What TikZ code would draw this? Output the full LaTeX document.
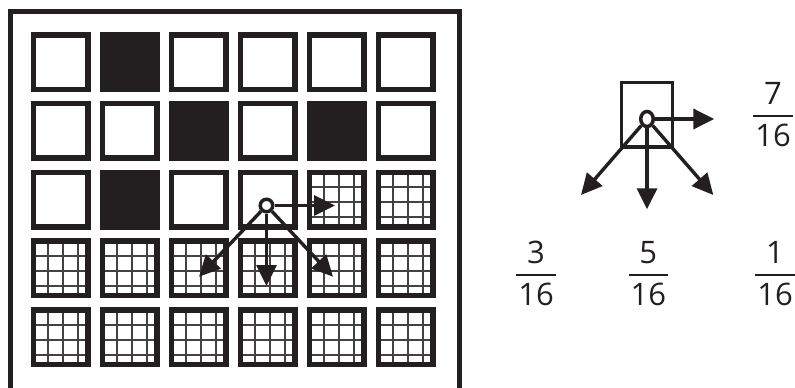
\documentclass[tikz,border=0pt]{standalone}
\usepackage{fontspec}
\setmainfont{Open Sans}
\usepackage{array}
\usetikzlibrary{arrows.meta,shapes.geometric}
\definecolor{ink}{HTML}{231F20}
\newcommand{\fracbox}[2]{{\fontsize{31}{36}\selectfont
  \setlength{\arrayrulewidth}{2.2pt}\setlength{\extrarowheight}{4pt}%
  \begin{tabular}{@{\hspace{2pt}}c@{\hspace{2pt}}}#1\\\hline #2\end{tabular}}}
\begin{document}
\begin{tikzpicture}[x=1pt,y=-1pt,
  cell/.style={draw=ink,line width=5.5pt,minimum size=54.5pt,inner sep=0pt},
  cellb/.style={cell,fill=white},
  cellf/.style={cell,fill=ink},
  cellm/.style={cell,fill=white,path picture={
    \foreach \m in {14.8,29.8,44.8} {
      \draw[ink!85,line width=2pt] ([xshift=\m pt]path picture bounding box.north west) -- ([xshift=\m pt]path picture bounding box.south west);
      \draw[ink!85,line width=2pt] ([yshift=-\m pt]path picture bounding box.north west) -- ([yshift=-\m pt]path picture bounding box.north east);
    }}},
  ring/.style={draw=ink,fill=white,line width=3.5pt,circle,inner sep=0pt,minimum size=12.5pt},
  flow/.style={draw=ink,line width=3.4pt,-{Triangle[length=21pt,width=20pt]}},
  fracnode/.style={text=ink,inner sep=0pt}]
  \useasboundingbox (0,0) rectangle (795,388);
  \draw[ink,line width=5pt] (10.2,388) -- (10.2,11.8) -- (459.2,11.8) -- (459.2,388);
  % image grid
  \foreach \kind [count=\k from 0] in {b,f,b,b,b,b, b,b,f,b,f,b, b,f,b,b,m,m, m,m,m,m,m,m, m,m,m,m,m,m} {
    \pgfmathtruncatemacro\c{mod(\k,6)}
    \pgfmathtruncatemacro\r{div(\k,6)}
    \node[cell\kind] (c\r\c) at (60.7+69*\c,62+68.8*\r) {};
  }
  \node[ring] (dot) at (266.5,205.5) {};
  \coordinate (dotE) at (335,205.5);
  \coordinate (dotS) at (266.5,286);
  \coordinate (dotSW) at (199,276.7);
  \coordinate (dotSE) at (333,276.7);
  \draw[flow] (dot) -- (dotE);
  \draw[flow] (dot) -- (dotS);
  \draw[flow] (dot) -- (dotSW);
  \draw[flow] (dot) -- (dotSE);
  % weights
  \node[draw=ink,line width=3.5pt,minimum width=51pt,minimum height=64.5pt,inner sep=0pt] (pixel) at (647,114.75) {};
  \node[ring,ellipse,minimum width=12.5pt,minimum height=15pt] (pdot) at (647,119) {};
  \coordinate (pE) at (714.3,119);
  \coordinate (pS) at (647,209.3);
  \coordinate (pSW) at (581,195);
  \coordinate (pSE) at (713.3,195);
  \draw[flow] (pdot) -- (pE);
  \draw[flow] (pdot) -- (pS);
  \draw[flow] (pdot) -- (pSW);
  \draw[flow] (pdot) -- (pSE);
  \node[fracnode] (w7) at (773,116) {\fracbox{7}{16}};
  \node[fracnode] (w3) at (536,275.3) {\fracbox{3}{16}};
  \node[fracnode] (w5) at (648.3,275.3) {\fracbox{5}{16}};
  \node[fracnode] (w1) at (775,275.3) {\fracbox{1}{16}};
\end{tikzpicture}
\end{document}
